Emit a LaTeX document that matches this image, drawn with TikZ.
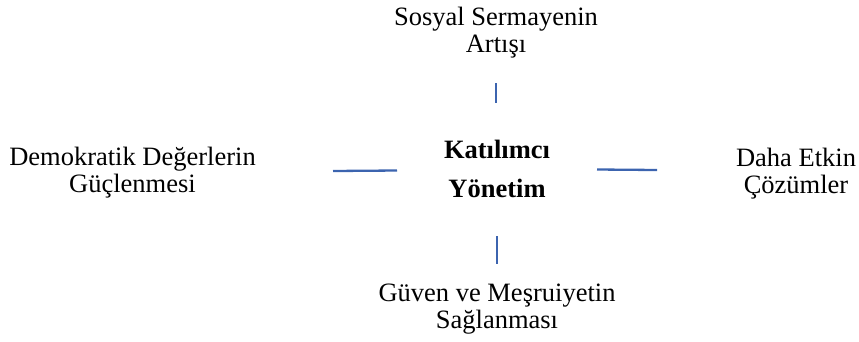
\documentclass[tikz,border=0pt]{standalone}
\usepackage{fontspec}
\setmainfont{Liberation Serif}
\definecolor{linkblue}{RGB}{60,100,175}
\tikzset{
  lbl/.style={align=center, inner sep=0pt, anchor=base, font=\fontsize{26.5}{26.5}\selectfont},
  hub/.style={align=center, inner sep=0pt, anchor=base, font=\fontsize{26.5}{39}\selectfont\bfseries},
  link/.style={draw=linkblue, line width=2.3pt}
}
\begin{document}
\begin{tikzpicture}[x=1pt,y=-1pt]
\useasboundingbox (0,0) rectangle (859,341);
\node[hub] (c) at (497,197) {Katılımcı\\Yönetim};
\node[lbl] (t) at (496,52) {Sosyal Sermayenin\\Artışı};
\node[lbl] (l) at (132.5,192) {Demokratik Değerlerin\\Güçlenmesi};
\node[lbl] (r) at (796,193) {Daha Etkin\\Çözümler};
\node[lbl] (b) at (497,328) {Güven ve Meşruiyetin\\Sağlanması};
\coordinate (t1) at (496,83); \coordinate (t2) at (496,103);
\coordinate (l1) at (333,171); \coordinate (l2) at (397,170.5);
\coordinate (r1) at (597,169.5); \coordinate (r2) at (657,170);
\coordinate (b1) at (497,236); \coordinate (b2) at (497,264);
\draw[link] (t1) -- (t2);
\draw[link] (l1) -- (l2);
\draw[link] (r1) -- (r2);
\draw[link] (b1) -- (b2);
\end{tikzpicture}
\end{document}
